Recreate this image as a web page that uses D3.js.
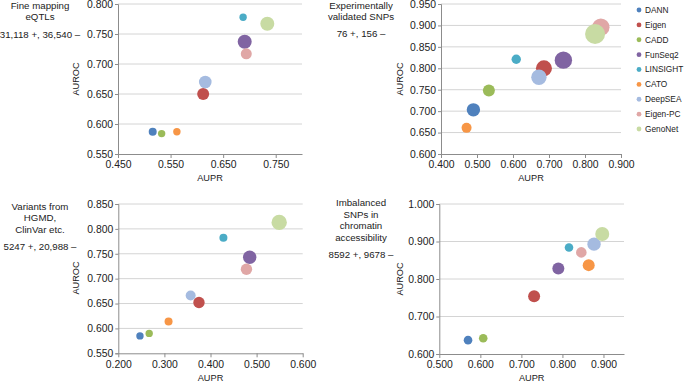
<!DOCTYPE html>
<html><head><meta charset="utf-8">
<script src="https://cdn.jsdelivr.net/npm/d3@7"></script>
<style>body{margin:0;background:#fff;} svg{display:block;font-family:"Liberation Sans",Arial,Helvetica,sans-serif;}</style>
</head><body><svg id="chart" width="684" height="382"></svg>
<script>
// ---- data ----
const methods = ["DANN","Eigen","CADD","FunSeq2","LINSIGHT","CATO","DeepSEA","Eigen-PC","GenoNet"];

const eqtlTitle = ["Fine mapping","eQTLs"];
const eqtlCounts = "31,118 +, 36,540 \u2013";
const eqtlAUPR  = [0.516, 0.612, 0.533, 0.691, 0.688, 0.562, 0.616, 0.694, 0.734];
const eqtlAUROC = [0.587, 0.650, 0.584, 0.737, 0.778, 0.587, 0.670, 0.717, 0.767];
const eqtlBubble = [4, 6, 3.7, 7, 3.7, 3.7, 6.3, 5.5, 7];
const eqtlXTicks = [0.45, 0.55, 0.65, 0.75];
const eqtlYTicks = [0.55, 0.60, 0.65, 0.70, 0.75, 0.80];

const expTitle = ["Experimentally","validated SNPs"];
const expCounts = "76 +, 156 \u2013";
const expAUPR  = [0.490, 0.686, 0.533, 0.740, 0.609, 0.471, 0.672, 0.844, 0.828];
const expAUROC = [0.703, 0.800, 0.748, 0.819, 0.821, 0.661, 0.779, 0.896, 0.880];
const expBubble = [6.7, 8, 6, 8.7, 4.7, 5, 7.7, 8.7, 10];
const expXTicks = [0.4, 0.5, 0.6, 0.7, 0.8, 0.9];
const expYTicks = [0.60, 0.65, 0.70, 0.75, 0.80, 0.85, 0.90, 0.95];

const hgmdTitle = ["Variants from","HGMD,","ClinVar etc."];
const hgmdCounts = "5247 +, 20,988 \u2013";
const hgmdAUPR  = [0.247, 0.375, 0.267, 0.485, 0.428, 0.309, 0.357, 0.478, 0.549];
const hgmdAUROC = [0.585, 0.652, 0.590, 0.743, 0.782, 0.614, 0.666, 0.719, 0.813];
const hgmdBubble = [3.7, 5.7, 3.7, 6.7, 4, 4, 5, 5.7, 7.7];
const hgmdXTicks = [0.2, 0.3, 0.4, 0.5, 0.6];
const hgmdYTicks = [0.55, 0.60, 0.65, 0.70, 0.75, 0.80, 0.85];

const imbTitle = ["Imbalanced","SNPs in","chromatin","accessibility"];
const imbCounts = "8592 +, 9678 \u2013";
const imbAUPR  = [0.570, 0.731, 0.607, 0.790, 0.816, 0.864, 0.877, 0.846, 0.897];
const imbAUROC = [0.637, 0.754, 0.642, 0.828, 0.884, 0.837, 0.893, 0.871, 0.920];
const imbBubble = [4.3, 6, 4.3, 6, 4.3, 6, 6.7, 5.3, 7];
const imbXTicks = [0.5, 0.6, 0.7, 0.8, 0.9];
const imbYTicks = [0.6, 0.7, 0.8, 0.9, 1.0];

// ---- styles ----
const palette = ["#4f81bd","#c0504d","#9bbb59","#8064a2","#4bacc6","#f79646","#a5bbe0","#e0a7a6","#c8dba3"];
const fmt = d3.format(".3f");

const svg = d3.select("#chart");
const color = d3.scaleOrdinal().domain(methods).range(palette);
const rScale = d3.scaleLinear().domain([0, 10]).range([0, 10]);

const panels = [
  {title: eqtlTitle, counts: eqtlCounts, x: eqtlAUPR, y: eqtlAUROC, b: eqtlBubble, xt: eqtlXTicks, yt: eqtlYTicks,
   xd: [0.45, 0.80], yd: [0.55, 0.80], xr: [118, 302], yr: [154, 4],
   tx: 40, ty: [8.5, 19.5], cy: 37.5, ylx: 79, yly: 79, xly: 181},
  {title: expTitle, counts: expCounts, x: expAUPR, y: expAUROC, b: expBubble, xt: expXTicks, yt: expYTicks,
   xd: [0.4, 0.9], yd: [0.60, 0.95], xr: [441, 621], yr: [154, 4],
   tx: 361, ty: [8.5, 19.5], cy: 37, ylx: 403, yly: 79, xly: 181},
  {title: hgmdTitle, counts: hgmdCounts, x: hgmdAUPR, y: hgmdAUROC, b: hgmdBubble, xt: hgmdXTicks, yt: hgmdYTicks,
   xd: [0.2, 0.6], yd: [0.55, 0.85], xr: [118.3, 302.7], yr: [353.3, 204],
   tx: 40, ty: [209.5, 221, 233], cy: 249.5, ylx: 79, yly: 278, xly: 381},
  {title: imbTitle, counts: imbCounts, x: imbAUPR, y: imbAUROC, b: imbBubble, xt: imbXTicks, yt: imbYTicks,
   xd: [0.5, 0.95], yd: [0.6, 1.0], xr: [439.3, 624], yr: [354, 204],
   tx: 361, ty: [206, 217.5, 229, 240.8], cy: 257.8, ylx: 403, yly: 279, xly: 381}
];

panels.forEach(p => {
  const x = d3.scaleLinear().domain(p.xd).range(p.xr);
  const y = d3.scaleLinear().domain(p.yd).range(p.yr);
  const g = svg.append("g");

  // gridlines
  g.selectAll("line.grid").data(p.yt.slice(1)).join("line")
    .attr("x1", p.xr[0]).attr("x2", p.xr[1])
    .attr("y1", d => y(d)).attr("y2", d => y(d))
    .attr("stroke", "#d4d4d4").attr("stroke-width", 1);

  // y axis
  const ya = g.append("g").attr("transform", `translate(${p.xr[0]},0)`)
    .call(d3.axisLeft(y).tickValues(p.yt).tickFormat(fmt).tickSize(3).tickPadding(2));
  // x axis
  const xa = g.append("g").attr("transform", `translate(0,${p.yr[0]})`)
    .call(d3.axisBottom(x).tickValues(p.xt).tickFormat(fmt).tickSize(4).tickPadding(3).tickSizeOuter(0));
  [ya, xa].forEach(a => {
    a.select(".domain").attr("stroke", "#8c8c8c");
    a.selectAll(".tick line").attr("stroke", "#8c8c8c");
    a.selectAll("text").attr("fill", "#222").style("font-size", "10.4px").style("font-family", "Liberation Sans, Arial, sans-serif");
  });

  // axis titles
  g.append("text").attr("x", (p.xr[0] + p.xr[1]) / 2).attr("y", p.xly)
    .attr("text-anchor", "middle").attr("fill", "#222").style("font-size", "9.2px").text("AUPR");
  g.append("text").attr("transform", `translate(${p.ylx},${p.yly}) rotate(-90)`)
    .attr("text-anchor", "middle").attr("fill", "#222").style("font-size", "9.2px").text("AUROC");

  // panel titles
  g.selectAll("text.ptitle").data(p.title).join("text")
    .attr("x", p.tx).attr("y", (d, i) => p.ty[i])
    .attr("text-anchor", "middle").attr("fill", "#222").style("font-size", "9.7px").text(d => d);
  g.append("text").attr("x", p.tx).attr("y", p.cy)
    .attr("text-anchor", "middle").attr("fill", "#222").style("font-size", "9.7px").text(p.counts);

  // bubbles
  g.selectAll("circle").data(methods.map((m, i) => ({m, x: p.x[i], y: p.y[i], b: p.b[i]}))).join("circle")
    .attr("cx", d => x(d.x)).attr("cy", d => y(d.y)).attr("r", d => rScale(d.b))
    .attr("fill", d => color(d.m));
});

// legend
const lg = svg.append("g");
const ly = d3.scaleLinear().domain([0, methods.length - 1]).range([10, 129]);
methods.forEach((m, i) => {
  lg.append("circle").attr("cx", 639).attr("cy", ly(i)).attr("r", 2.4).attr("fill", color(m));
  lg.append("text").attr("x", 645).attr("y", ly(i)).attr("dy", "0.35em")
    .attr("fill", "#222").style("font-size", "8.3px").text(m);
});
</script></body></html>
